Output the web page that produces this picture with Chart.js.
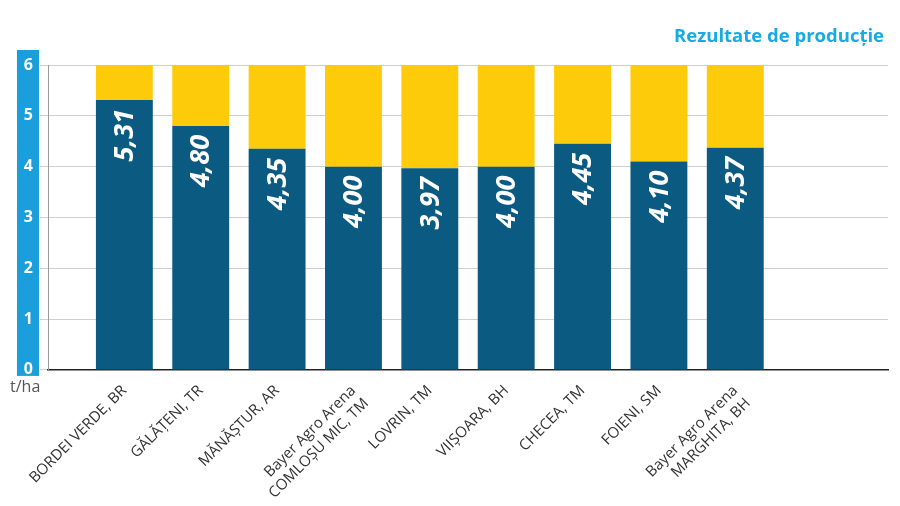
<!DOCTYPE html>
<html>
<head>
<meta charset="utf-8">
<script src="https://cdn.jsdelivr.net/npm/chart.js@4.4.1/dist/chart.umd.min.js"></script>
<style>
  html, body { margin: 0; padding: 0; background: #fff; }
  #wrap { width: 900px; height: 506px; position: relative; }
</style>
</head>
<body>
<div id="wrap"><canvas id="c" width="900" height="506"></canvas></div>
<script>
const sites = ['BORDEI VERDE, BR', 'GĂLĂȚENI, TR', 'MĂNĂȘTUR, AR', ['Bayer Agro Arena', 'COMLOȘU MIC, TM'], 'LOVRIN, TM', 'VIIȘOARA, BH', 'CHECEA, TM', 'FOIENI, SM', ['Bayer Agro Arena', 'MARGHITA, BH']];
const yields = [5.31, 4.80, 4.35, 4.00, 3.97, 4.00, 4.45, 4.10, 4.37];
const remaining = [0.69, 1.20, 1.65, 2.00, 2.03, 2.00, 1.55, 1.90, 1.63];
const yTicks = [0, 1, 2, 3, 4, 5, 6];
const titleText = 'Rezultate de producție';
const unitText = 't/ha';

// one empty slot before and two after, as in the reference layout
const labels = [''].concat(sites, ['', '']);
const pad = arr => [null].concat(arr, [null, null]);

const FONT = "'Open Sans', 'Noto Sans', sans-serif";

const decor = {
  id: 'decor',
  beforeDraw(chart) {
    const {ctx, chartArea, scales} = chart;
    const y = scales.y;
    const top = y.getPixelForValue(yTicks[yTicks.length - 1]) - 15;
    const bot = y.getPixelForValue(yTicks[0]) + 6;
    ctx.save();
    ctx.fillStyle = '#1a9fdc';
    ctx.fillRect(chartArea.left - 31, top, 22, bot - top);
    ctx.restore();
  },
  afterDraw(chart) {
    const {ctx, chartArea} = chart;
    ctx.save();
    // title
    ctx.fillStyle = '#18aae2';
    ctx.font = "bold 18.5px " + FONT;
    ctx.textAlign = 'right';
    ctx.textBaseline = 'middle';
    ctx.fillText(titleText, chartArea.right - 4, 37);
    // unit
    ctx.fillStyle = '#555';
    ctx.font = "16px " + FONT;
    ctx.textAlign = 'left';
    ctx.fillText(unitText, chartArea.left - 38, chartArea.bottom + 18);
    // value labels
    const meta = chart.getDatasetMeta(0);
    ctx.fillStyle = '#ffffff';
    ctx.font = "italic bold 27px " + FONT;
    meta.data.forEach((el, i) => {
      const v = chart.data.datasets[0].data[i];
      if (v == null) return;
      ctx.save();
      ctx.translate(el.x + 1, el.y + 9);
      ctx.rotate(-Math.PI / 2);
      ctx.textAlign = 'right';
      ctx.textBaseline = 'middle';
      ctx.fillText(v.toFixed(2).replace('.', ','), 0, 0);
      ctx.restore();
    });
    ctx.restore();
  }
};

new Chart(document.getElementById('c'), {
  type: 'bar',
  data: {
    labels: labels,
    datasets: [
      { data: pad(yields), backgroundColor: '#0b5a82', stack: 's' },
      { data: pad(remaining), backgroundColor: '#fdcb0a', stack: 's' }
    ]
  },
  options: {
    responsive: false,
    animation: false,
    events: [],
    layout: { padding: { left: 0, right: 12, top: 65, bottom: 0 } },
    categoryPercentage: 1,
    barPercentage: 0.745,
    plugins: {
      legend: { display: false },
      tooltip: { enabled: false },
      title: { display: false }
    },
    scales: {
      x: {
        stacked: true,
        offset: false,
        afterFit(scale) { scale.paddingRight = 0; },
        grid: { display: false },
        border: { display: true, color: '#222', width: 1.5 },
        ticks: {
          autoSkip: false,
          minRotation: 45,
          maxRotation: 45,
          padding: 4,
          color: '#333333',
          font: { family: FONT, size: 15 }
        }
      },
      y: {
        stacked: true,
        min: 0,
        max: 6,
        afterFit(scale) { scale.width = 48; },
        afterBuildTicks(scale) { scale.ticks = yTicks.map(v => ({ value: v })); },
        grid: { color: '#cfcfcf', lineWidth: 1, tickLength: 8 },
        border: { display: true, color: '#9a9a9a', width: 1 },
        ticks: {
          padding: 7,
          color: '#ffffff',
          font: { family: FONT, size: 16, weight: 'bold' }
        }
      }
    }
  },
  plugins: [decor]
});
</script>
</body>
</html>
